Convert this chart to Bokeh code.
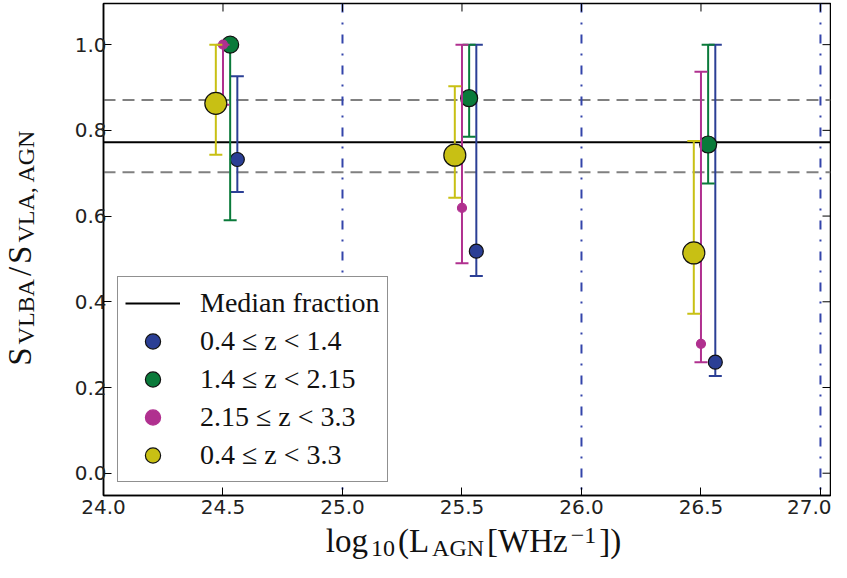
import math
from bokeh.plotting import figure
from bokeh.layouts import row, column
from bokeh.models import (Range1d, FixedTicker, PrintfTickFormatter,
                          Span, Legend, LegendItem)
from bokeh.core.properties import value
from bokeh.embed import file_html
from bokeh.resources import INLINE

# ---------------- data ----------------
x_ticks = [24.0, 24.5, 25.0, 25.5, 26.0, 26.5, 27.0]
y_ticks = [0.0, 0.2, 0.4, 0.6, 0.8, 1.0]
bin_edges = [25.0, 26.0, 27.0]

median_fraction = 0.772
median_low = 0.702
median_high = 0.871

# 0.4 <= z < 1.4
x_z04_14 = [24.56, 25.56, 26.56]
y_z04_14 = [0.732, 0.518, 0.259]
lo_z04_14 = [0.656, 0.460, 0.227]
hi_z04_14 = [0.926, 1.0, 1.0]

# 1.4 <= z < 2.15
x_z14_215 = [24.53, 25.53, 26.53]
y_z14_215 = [1.0, 0.875, 0.767]
lo_z14_215 = [0.590, 0.785, 0.676]
hi_z14_215 = [1.0, 1.0, 1.0]

# 2.15 <= z < 3.3
x_z215_33 = [24.50, 25.50, 26.50]
y_z215_33 = [1.0, 0.619, 0.302]
lo_z215_33 = [0.860, 0.490, 0.259]
hi_z215_33 = [1.0, 1.0, 0.937]

# 0.4 <= z < 3.3
x_z04_33 = [24.47, 25.47, 26.47]
y_z04_33 = [0.863, 0.742, 0.514]
lo_z04_33 = [0.743, 0.643, 0.372]
hi_z04_33 = [1.0, 0.903, 0.775]

labels = ["0.4 ≤ z < 1.4", "1.4 ≤ z < 2.15", "2.15 ≤ z < 3.3", "0.4 ≤ z < 3.3"]

# ---------------- layout geometry (page pixels) ----------------
TOTAL_W, TOTAL_H = 831, 562
YT_W = 45            # strip holding the y-axis title
XT_H = 40            # strip holding the x-axis title
FR_LEFT, FR_RIGHT, FR_TOP, FR_BOTTOM = 103, 830, 3, 495
X0, X1 = 24.0, 27.042
Y0, Y1 = -0.052, 1.096

MW = TOTAL_W - YT_W
MH = TOTAL_H - XT_H

p = figure(width=MW, height=MH,
           x_range=Range1d(X0, X1), y_range=Range1d(Y0, Y1),
           output_backend="svg", toolbar_location=None,
           min_border_left=FR_LEFT - YT_W, min_border_right=TOTAL_W - FR_RIGHT,
           min_border_top=FR_TOP, min_border_bottom=MH - FR_BOTTOM)
p.grid.visible = False
p.outline_line_color = "black"
p.outline_line_width = 1.5
p.outline_line_alpha = 1.0

def style_axis(ax, standoff):
    ax.major_tick_in = 8
    ax.major_tick_out = 0
    ax.minor_tick_line_color = None
    ax.axis_line_color = "black"
    ax.axis_line_width = 1.5
    ax.major_tick_line_color = "black"
    ax.major_tick_line_width = 1
    ax.major_label_text_font = "DejaVu Sans"
    ax.major_label_text_font_size = "20px"
    ax.major_label_text_color = "#222222"
    ax.major_label_standoff = standoff

p.xaxis.ticker = FixedTicker(ticks=x_ticks)
p.yaxis.ticker = FixedTicker(ticks=y_ticks)
p.xaxis.formatter = PrintfTickFormatter(format="%.1f")
p.yaxis.formatter = PrintfTickFormatter(format="%.1f")
style_axis(p.xaxis[0], 4)
style_axis(p.yaxis[0], -3)

# mirrored inward ticks on the top and right edges (clipped to the frame)
p.scatter(x=x_ticks, y=[Y1] * len(x_ticks), marker="dash", angle=math.pi / 2,
          size=16, line_color="black", line_width=1)
p.scatter(x=[X1] * len(y_ticks), y=y_ticks, marker="dash",
          size=16, line_color="black", line_width=1)

# reference lines
for v in (median_low, median_high):
    p.add_layout(Span(location=v, dimension="width", line_color="#808080",
                      line_width=2, line_dash="12 7", level="underlay"))
for e in bin_edges:
    p.add_layout(Span(location=e, dimension="height", line_color="#3344aa",
                      line_width=2, line_dash="9 10 2 10", level="underlay"))

median_r = p.line(x=[X0, X1], y=[median_fraction, median_fraction],
                  line_color="black", line_width=2)

series = [
    (x_z04_14, y_z04_14, lo_z04_14, hi_z04_14, "#2b3f95", 14, "#111111"),
    (x_z14_215, y_z14_215, lo_z14_215, hi_z14_215, "#0a7a3a", 17, "#111111"),
    (x_z215_33, y_z215_33, lo_z215_33, hi_z215_33, "#b0308f", 9, "#b0308f"),
    (x_z04_33, y_z04_33, lo_z04_33, hi_z04_33, "#c8c014", 22, "#111111"),
]

items = [LegendItem(label="Median fraction", renderers=[median_r])]
for lab, (xs, ys, lo, hi, col, sz, edge) in zip(labels, series):
    p.segment(x0=xs, y0=lo, x1=xs, y1=hi, line_color=col, line_width=2)
    p.scatter(x=xs + xs, y=lo + hi, marker="dash", size=13,
              line_color=col, line_width=2)
    pts = p.scatter(x=xs, y=ys, size=sz, fill_color=col,
                    line_color=edge, line_width=1.2)
    items.append(LegendItem(label=lab, renderers=[pts]))

legend = Legend(items=items, location=(14, 13),
                label_text_font="Liberation Serif", label_text_font_size="28px",
                label_text_color="#111111",
                glyph_width=55, glyph_height=38, label_height=38,
                label_standoff=20, padding=7, spacing=0, margin=0,
                border_line_color="#222222", border_line_width=1.5,
                background_fill_color="white", background_fill_alpha=1.0)
p.add_layout(legend)

# ---------------- title strips ----------------
def strip(w, h, xr, yr):
    f = figure(width=w, height=h, output_backend="svg", toolbar_location=None,
               title=None, x_range=Range1d(*xr), y_range=Range1d(*yr),
               x_axis_location=None, y_axis_location=None, min_border=0)
    f.grid.visible = False
    f.outline_line_color = None
    return f

# x strip frame is aligned with the main frame horizontally -> page px
xt = strip(MW, XT_H, (FR_LEFT, FR_RIGHT), (TOTAL_H, MH))
yt = strip(YT_W, TOTAL_H, (0, YT_W), (TOTAL_H, 0))

CW = {"l": .278, "o": .5, "g": .5, "(": .333, ")": .333, "L": .611, "[": .333,
      "]": .333, "W": .944, "H": .722, "z": .444, "A": .722, "G": .722,
      "N": .722, "0": .5, "1": .5, "−": .564, "S": .556, "V": .722,
      "B": .667, "/": .278, ",": .25, " ": .25}

def tw(s, size):
    return sum(CW.get(c, .5) for c in s) * size

MAIN, SCRIPT = 33, 24
GAP = 3
BASE_K = 0.3375     # distance from text middle to alphabetic baseline (em)

def put(fig, parts, xs, ys, angle):
    for size in (MAIN, SCRIPT):
        sel = [i for i, (_, s, _) in enumerate(parts) if s == size]
        fig.text(x=[xs[i] for i in sel], y=[ys[i] for i in sel],
                 text=[parts[i][0] for i in sel], angle=angle,
                 text_font=value("Liberation Serif"),
                 text_font_size=value(f"{size}px"), text_color="#111111",
                 text_align="left", text_baseline="middle")

# x title: log10(L_AGN[WHz^-1])
xparts = [("log", MAIN, 0), ("10", SCRIPT, 4), ("(L", MAIN, 0), ("AGN", SCRIPT, 4),
          ("[WHz", MAIN, 0), ("−1", SCRIPT, -9), ("])", MAIN, 0)]
total = sum(tw(t, s) for t, s, _ in xparts) + GAP * (len(xparts) - 1)
cx, base_y = 473, 552
pos = cx - total / 2
xx, xy = [], []
for t, s, dy in xparts:
    xx.append(pos)
    xy.append(base_y + dy - BASE_K * s)
    pos += tw(t, s) + GAP
put(xt, xparts, xx, xy, 0.0)

# y title: S_VLBA / S_VLA,AGN  (rotated)
yparts = [("S", MAIN, 0), ("VLBA", SCRIPT, 3), ("/", MAIN, 0), ("S", MAIN, 0),
          ("VLA, AGN", SCRIPT, 3)]
total = sum(tw(t, s) for t, s, _ in yparts) + GAP * (len(yparts) - 1)
cy, base_x = 247, 31
pos = cy + total / 2
yx, yy = [], []
for t, s, dx in yparts:
    yx.append(base_x + dx - BASE_K * s)
    yy.append(pos)
    pos -= tw(t, s) + GAP
put(yt, yparts, yx, yy, math.pi / 2)

layout = row(yt, column(p, xt, spacing=0), spacing=0)
open("out.html", "w").write(file_html(layout, INLINE))
